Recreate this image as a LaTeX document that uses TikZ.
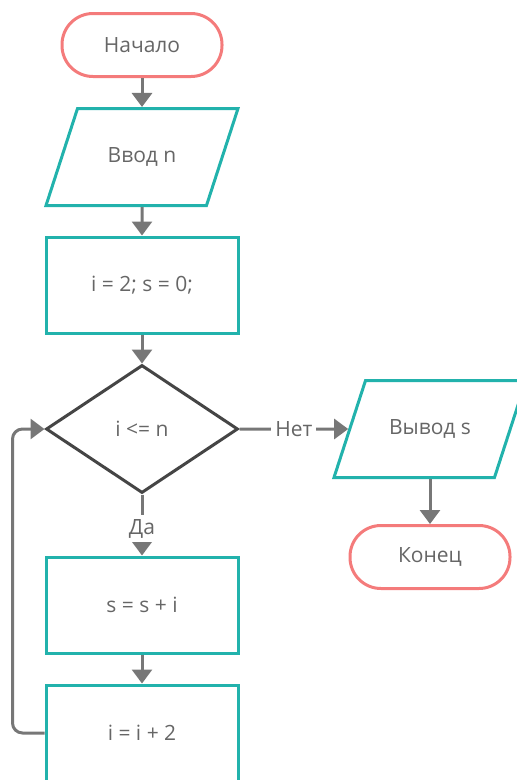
\documentclass[tikz,border=0pt]{standalone}
\usepackage{fontspec}
\setmainfont{Open Sans}
\usetikzlibrary{shapes.geometric, arrows.meta, positioning}
\definecolor{tealline}{HTML}{22B2AC}
\definecolor{redline}{HTML}{F47B7B}
\definecolor{decline}{HTML}{454545}
\definecolor{arrline}{HTML}{777777}
\definecolor{txt}{HTML}{666666}
\tikzset{
  fnode/.style = {align=center, inner sep=0pt, text centered, font=\fontsize{21}{25}\selectfont, text=txt, line width=3pt},
  tterm/.style = {fnode, rectangle, rounded corners=31pt, draw=redline, minimum width=160pt, minimum height=63pt},
  tio/.style = {fnode, trapezium, trapezium left angle=72, trapezium right angle=108, trapezium stretches body, draw=tealline, minimum width=192pt, text height=14pt, text depth=4pt, inner xsep=0pt, inner ysep=39.5pt},
  tproc/.style = {fnode, rectangle, draw=tealline, minimum width=192pt, minimum height=96pt},
  tdec/.style = {fnode, diamond, aspect=1.5, draw=decline, minimum width=192pt, minimum height=128pt},
  flow/.style = {draw=arrline, line width=3pt, -{Triangle[width=20pt,length=14pt]}},
  lbl/.style = {fnode, fill=white, inner sep=4pt},
}

\begin{document}
\begin{tikzpicture}[on grid]
\useasboundingbox (0pt,0pt) rectangle (517pt,-780pt);
\node [tterm] (start) at (142pt,-45pt) {Начало};
\node [tio, below=112pt of start] (inp) {Ввод n};
\node [tproc, below=128pt of inp] (init) {i = 2; s = 0;};
\node [tdec, below=144pt of init] (cond) {i <= n};
\node [tproc, below=176pt of cond] (body) {s = s + i};
\node [tproc, below=128pt of body] (incr) {i = i + 2};
\node [tio, right=288pt of cond] (outp) {Вывод s};
\node [tterm, below=128pt of outp] (stop) {Конец};

\draw [flow] (start) -- (inp);
\draw [flow] (inp) -- (init);
\draw [flow] (init) -- (cond);
\draw [flow] (cond) -- node [lbl, pos=0.56] {Да} (body);
\draw [flow] (body) -- (incr);
\draw [flow] (cond) -- node [lbl] {Нет} (outp);
\draw [flow] (outp) -- (stop);
\draw [flow, rounded corners=10pt] (incr.west) -- ++(-32pt,0) |- (cond.west);
\end{tikzpicture}
\end{document}
